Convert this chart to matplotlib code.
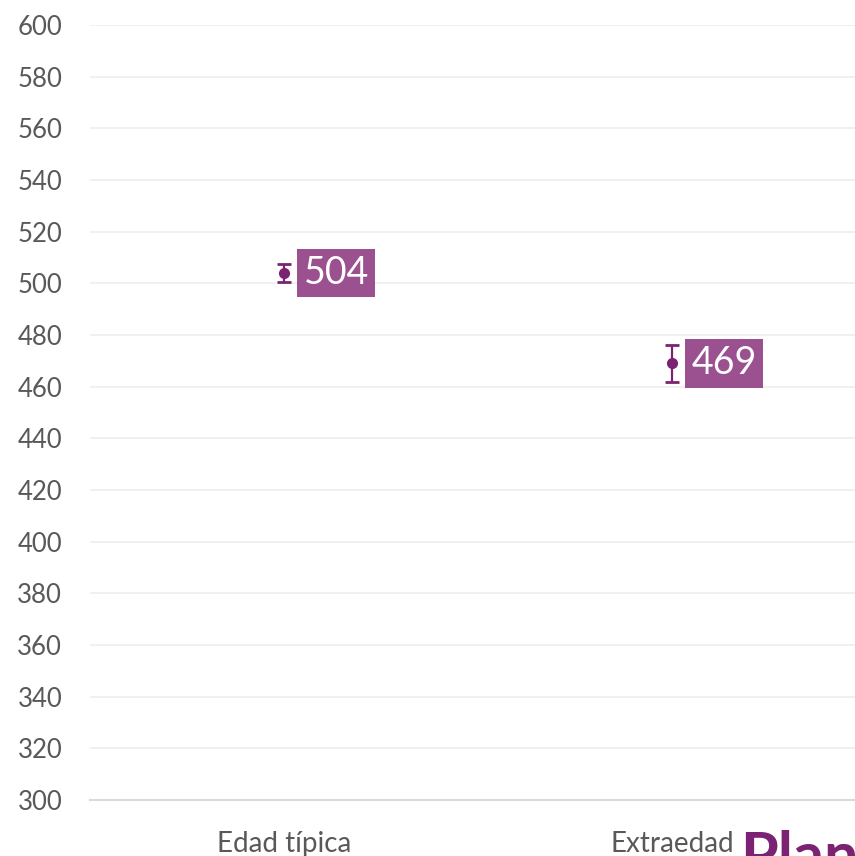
import matplotlib.pyplot as plt
from matplotlib.ticker import MultipleLocator

categories = ['Edad típica', 'Extraedad']
values = [504, 469]
errors = [3.6, 7.0]

plt.rcParams['font.family'] = ['Lato', 'DejaVu Sans']

fig = plt.figure(figsize=(8.55, 8.56), dpi=100)
ax = fig.add_axes([90 / 855, 56 / 856, 765 / 855, 775 / 856])

x = [0, 1]
ax.errorbar(x, values, yerr=errors, fmt='o', color='#7b2272', ecolor='#7b2272',
            markersize=7, elinewidth=1.6, capsize=5, capthick=2, zorder=3)

for xi, v in zip(x, values):
    ax.annotate(str(v), (xi, v), xytext=(14, 0), textcoords='offset points',
                fontsize=27, color='white', va='center', ha='left',
                bbox=dict(boxstyle='square,pad=0.17', fc='#9b5190', ec='none'))

ax.set_xlim(-0.5, 1.472)
ax.set_ylim(300, 600)
ax.yaxis.set_major_locator(MultipleLocator(20))
ax.set_xticks(x)
ax.set_xticklabels(categories)
ax.grid(axis='y', color='#eeeeee', linewidth=1.2)
ax.set_axisbelow(True)
for s in ['top', 'right', 'left']:
    ax.spines[s].set_visible(False)
ax.spines['bottom'].set_color('#d9d9d9')
ax.spines['bottom'].set_linewidth(1.5)
ax.tick_params(length=0, labelcolor='#595959')
ax.tick_params(axis='y', labelsize=18.5, pad=20)
ax.tick_params(axis='x', labelsize=20, pad=22)

fig.text(740 / 855, 1 - 830 / 856, 'Plan', fontsize=44, fontweight='bold',
         color='#7b2272', va='top', ha='left')

fig.savefig('out.png', dpi=100)
